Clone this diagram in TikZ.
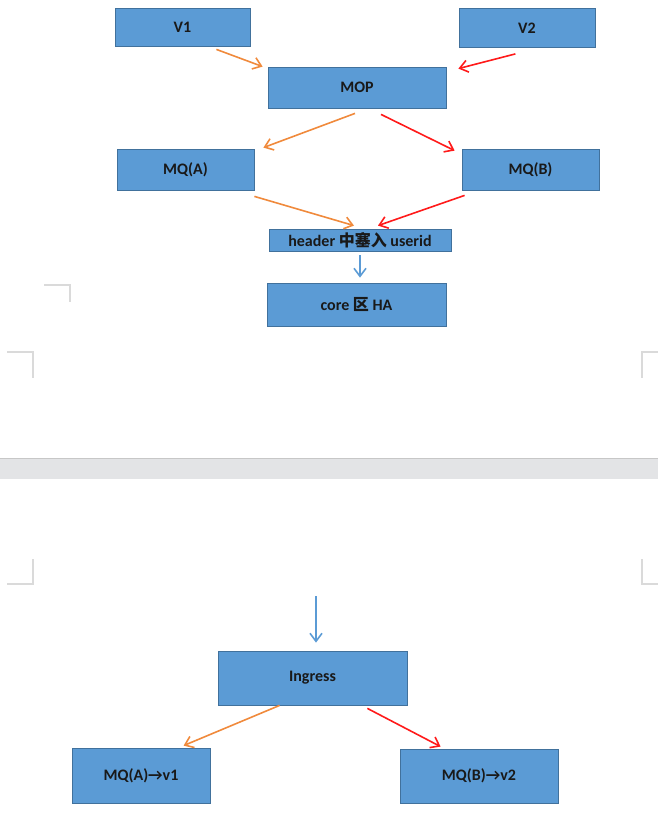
\documentclass[tikz,border=0pt]{standalone}
\usepackage{fontspec}
\setmainfont{Carlito}
\newfontfamily\cjk{Noto Sans CJK SC}
\usepackage{tikz}
\usetikzlibrary{arrows.meta, positioning, calc}
\definecolor{BoxBlue}{HTML}{5B9BD5}
\definecolor{BoxEdge}{HTML}{41719C}
\definecolor{ArrOrange}{HTML}{F08A3C}
\definecolor{ArrRed}{HTML}{FF1A1A}
\definecolor{ArrBlue}{HTML}{5B9BD5}
\definecolor{PageMark}{HTML}{DADADA}
\definecolor{GapGrey}{HTML}{E3E4E6}

\begin{document}
\begin{tikzpicture}[x=1pt, y=-1pt, >={Straight Barb[length=8pt, width=12pt]}, line width=1.6pt]
  \tikzset{
    box/.style={draw=BoxEdge, line width=0.8pt, fill=BoxBlue, inner sep=0pt,
                font=\fontsize{16}{18}\selectfont\bfseries, text=black!90},
    orange/.style={->, ArrOrange},
    redarr/.style={->, ArrRed},
    bluearr/.style={->, ArrBlue}
  }
  \useasboundingbox (0,0) rectangle (658,836);

  % page gap and corner marks
  \fill[GapGrey] (0,458) rectangle (658,479);
  \draw[line width=1.5pt, black!22] (0,458.5) -- (658,458.5);
  \draw[PageMark, line width=1.4pt] (44,285) -- (70,285) -- (70,302);
  \draw[PageMark, line width=1.4pt] (7,352) -- (33,352) -- (33,378);
  \draw[PageMark, line width=1.4pt] (658,352) -- (642,352) -- (642,378);
  \draw[PageMark, line width=1.4pt] (33,559) -- (33,584) -- (7,584);
  \draw[PageMark, line width=1.4pt] (642,559) -- (642,584) -- (658,584);

  % first page
  \node[box, minimum width=135pt, minimum height=38pt] (v1) at (182.5,27) {V1};
  \node[box, minimum width=136pt, minimum height=39pt] (v2) at (527,28) {V2};
  \node[box, minimum width=178pt, minimum height=41pt] (mop) at (357,87.5) {MOP};
  \node[box, minimum width=137pt, minimum height=41pt] (mqa) at (185.5,169.5) {MQ(A)};
  \node[box, minimum width=137pt, minimum height=41pt] (mqb) at (530.5,169.5) {MQ(B)};
  \node[box, minimum width=182pt, minimum height=22pt] (hdr) at (360,240)
    {header {\cjk 中塞入} userid};
  \node[box, minimum width=179pt, minimum height=43pt] (core) at (356.5,304.5)
    {core {\cjk 区} HA};

  \draw[orange] ([xshift=-34pt, yshift=-3pt]v1.south east) -- ([xshift=-5pt]mop.north west);
  \draw[redarr] ([xshift=-80pt, yshift=-6pt]v2.south east) -- ([xshift=12pt, yshift=-2pt]mop.north east);
  \draw[orange] ([xshift=-2pt, yshift=-5pt]mop.south) -- ([xshift=9pt, yshift=1pt]mqa.north east);
  \draw[redarr] ([xshift=24pt, yshift=-6pt]mop.south) -- ([xshift=-7pt, yshift=-2pt]mqb.north west);
  \draw[orange] ([yshift=-6pt]mqa.south east) -- ([xshift=-6pt, yshift=3pt]hdr.north);
  \draw[redarr] ([xshift=3pt, yshift=-5pt]mqb.south west) -- ([xshift=18pt, yshift=3pt]hdr.north);
  \draw[bluearr] ([yshift=-4pt]hdr.south) -- ([xshift=3.5pt, yshift=5pt]core.north);

  % second page
  \node[box, minimum width=189pt, minimum height=54pt] (ing) at (312.5,678) {Ingress};
  \node[box, minimum width=138pt, minimum height=55pt] (mqav) at (141,775.5) {MQ(A)→v1};
  \node[box, minimum width=158pt, minimum height=54pt] (mqbv) at (479,776) {MQ(B)→v2};
  \coordinate (in) at (316,596);

  \draw[bluearr] (in) -- ([xshift=3.5pt, yshift=8pt]ing.north);
  \draw[orange] ([xshift=62pt]ing.south west) -- ([xshift=112pt, yshift=2pt]mqav.north west);
  \draw[redarr] ([xshift=-40pt, yshift=-3pt]ing.south east) -- ([xshift=41pt, yshift=2pt]mqbv.north west);
\end{tikzpicture}
\end{document}
